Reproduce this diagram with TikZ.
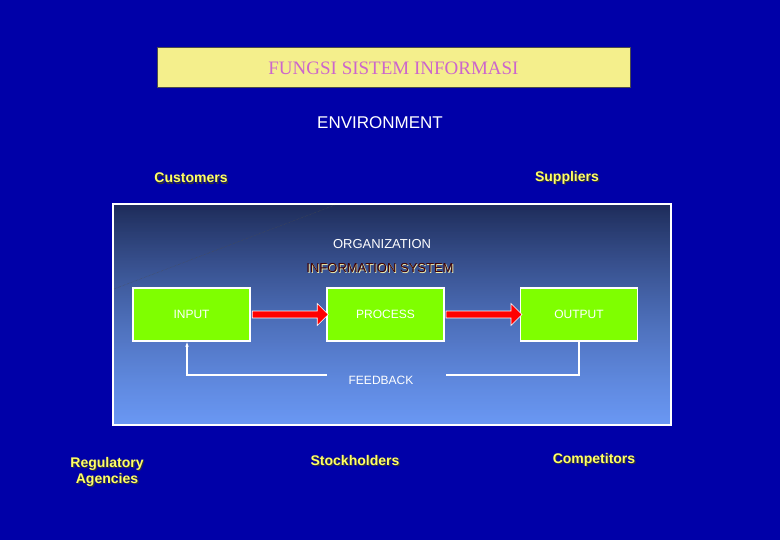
\documentclass[tikz,border=0pt]{standalone}
\usepackage{fontspec}
\setmainfont{Liberation Sans}
\newfontfamily\titlefont{Liberation Serif}
\usetikzlibrary{arrows.meta,shapes.arrows,positioning,calc,fadings}
\definecolor{bgblue}{HTML}{0000A8}
\definecolor{panelA}{HTML}{1E2C5A}
\definecolor{panelB}{HTML}{6A98F4}
\definecolor{boxgreen}{HTML}{7FFF00}
\definecolor{titlefill}{HTML}{F4EF8C}
\definecolor{titletext}{HTML}{CC66CC}
\definecolor{envyellow}{HTML}{FFFF66}
\tikzset{
  env/.style={font=\bfseries\fontsize{14}{16}\selectfont, text=envyellow, align=center},
  envshadow/.style={font=\bfseries\fontsize{14}{16}\selectfont, text=black!80, align=center},
  stage/.style={draw=white, line width=1.5pt, fill=boxgreen, text=white,
    minimum width=117pt, minimum height=53pt, font=\fontsize{12}{14}\selectfont},
  flow/.style={single arrow, draw=white, fill=red, line width=0.6pt,
    minimum height=76pt, minimum width=22pt, single arrow head extend=5pt, inner sep=2pt},
  fb/.style={draw=white, line width=1.5pt},
}
\newcommand{\envlabel}[3]{%
  \node[envshadow] at (#1) [xshift=1.2pt,yshift=-1.2pt] {#3};
  \node[env] (#2) at (#1) {#3};}
\begin{document}
\begin{tikzpicture}[x=1pt,y=-1pt]
  \fill[bgblue] (0,0) rectangle (780,540);
  \useasboundingbox (0,0) rectangle (780,540);
  % title
  \node[draw=black!70, line width=1pt, fill=titlefill, minimum width=473pt, minimum height=40pt,
    text=titletext, font=\titlefont\fontsize{19}{22}\selectfont] (title) at (393.5,68) {FUNGSI SISTEM INFORMASI};
  \node[text=white, font=\fontsize{17}{20}\selectfont] (envr) at (380,123) {ENVIRONMENT};
  % environment
  \envlabel{191,178}{cust}{Customers}
  \envlabel{567,178}{supp}{Suppliers}
  \envlabel{107,472}{reg}{Regulatory\\Agencies}
  \envlabel{355,460}{stock}{Stockholders}
  \envlabel{594,460}{comp}{Competitors}
  % organization panel
  \shade[left color=panelA, right color=panelB, shading angle=0] (113,204) rectangle (671,425);
  \fill[panelB, opacity=0.35, path fading=north] (113,204) rectangle (671,425);
  \draw[white, line width=1.5pt] (113,204) rectangle (671,425);
  \draw[black!70, densely dotted] (114,289) -- (335,205);
  \node[text=white, font=\fontsize{13}{15}\selectfont] (org) at (382,244) {ORGANIZATION};
  \node[text=titlefill!70, font=\fontsize{13}{15}\selectfont] at (380.8,268.8) {INFORMATION SYSTEM};
  \node[text=black!75!red, font=\fontsize{13}{15}\selectfont] (infos) at (380,268) {INFORMATION SYSTEM};
  % stages
  \node[stage] (input) at (191.5,314.5) {INPUT};
  \node[stage] (process) at (385.5,314.5) {PROCESS};
  \node[stage] (output) at (579,314.5) {OUTPUT};
  \node[flow] at ($(input.east)!0.5!(process.west)$) {};
  \node[flow] at ($(process.east)!0.5!(output.west)$) {};
  % feedback
  \node[text=white, font=\fontsize{12}{14}\selectfont] (feed) at (381,380) {FEEDBACK};
  \coordinate (fr) at (446,375);
  \coordinate (fl) at (327,375);
  \draw[fb] (output.south) |- (fr);
  \draw[fb,-{Latex[length=5pt]}] (fl) -| ([xshift=-4.5pt]input.south);
\end{tikzpicture}
\end{document}
